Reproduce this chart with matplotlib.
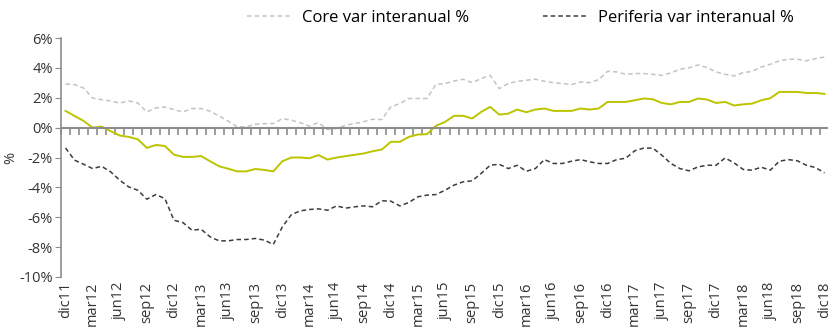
import matplotlib
matplotlib.use("Agg")
import matplotlib.pyplot as plt
from matplotlib.ticker import FixedLocator, FuncFormatter

plt.rcParams['font.family'] = ['Liberation Sans Narrow', 'Open Sans', 'DejaVu Sans']

# monthly series, dic11 .. dic18
core = [2.92, 2.88, 2.65, 1.98, 1.87, 1.78, 1.65, 1.78, 1.65, 1.05, 1.32, 1.38,
        1.20, 1.05, 1.28, 1.28, 1.10, 0.78, 0.43, 0.05, 0.05, 0.23, 0.27, 0.27,
        0.60, 0.50, 0.32, 0.10, 0.34, -0.13, -0.06, 0.16, 0.27, 0.40, 0.56, 0.54,
        1.39, 1.61, 1.95, 1.95, 1.95, 2.90, 2.95, 3.12, 3.24, 3.01, 3.28, 3.50,
        2.61, 2.95, 3.10, 3.17, 3.24, 3.10, 3.01, 2.95, 2.88, 3.06, 3.01, 3.21,
        3.77, 3.73, 3.57, 3.62, 3.62, 3.57, 3.50, 3.66, 3.91, 4.00, 4.20, 4.02,
        3.73, 3.57, 3.46, 3.68, 3.77, 4.06, 4.24, 4.47, 4.58, 4.58, 4.47, 4.62,
        4.73]

periferia = [-1.36, -2.18, -2.45, -2.74, -2.59, -2.96, -3.52, -3.97, -4.19, -4.79,
             -4.48, -4.75, -6.20, -6.36, -6.87, -6.80, -7.31, -7.58, -7.58, -7.49,
             -7.49, -7.42, -7.53, -7.82, -6.64, -5.82, -5.57, -5.48, -5.44, -5.53,
             -5.24, -5.39, -5.30, -5.24, -5.30, -4.90, -4.92, -5.24, -5.01, -4.63,
             -4.52, -4.48, -4.19, -3.85, -3.63, -3.56, -3.07, -2.52, -2.45, -2.74,
             -2.52, -2.92, -2.74, -2.14, -2.40, -2.40, -2.25, -2.14, -2.29, -2.40,
             -2.40, -2.14, -2.05, -1.55, -1.37, -1.37, -1.85, -2.40, -2.74, -2.89,
             -2.63, -2.52, -2.52, -2.03, -2.36, -2.80, -2.85, -2.65, -2.85, -2.25,
             -2.14, -2.22, -2.52, -2.67, -3.03]

total = [1.12, 0.78, 0.45, 0.00, 0.07, -0.24, -0.53, -0.62, -0.78, -1.36, -1.16, -1.23,
         -1.81, -1.96, -1.96, -1.90, -2.25, -2.59, -2.75, -2.93, -2.93, -2.77, -2.83, -2.93,
         -2.25, -2.00, -2.00, -2.05, -1.84, -2.14, -2.00, -1.91, -1.82, -1.73, -1.58, -1.47,
         -0.95, -0.95, -0.62, -0.46, -0.44, 0.12, 0.38, 0.79, 0.79, 0.61, 1.05, 1.39,
         0.87, 0.94, 1.21, 1.03, 1.21, 1.28, 1.12, 1.12, 1.12, 1.28, 1.21, 1.28,
         1.72, 1.72, 1.72, 1.83, 1.95, 1.90, 1.65, 1.56, 1.72, 1.72, 1.95, 1.88,
         1.65, 1.72, 1.48, 1.56, 1.61, 1.83, 1.97, 2.39, 2.39, 2.39, 2.32, 2.32,
         2.26]

quarter_labels = ['dic11', 'mar12', 'jun12', 'sep12', 'dic12', 'mar13', 'jun13', 'sep13',
                  'dic13', 'mar14', 'jun14', 'sep14', 'dic14', 'mar15', 'jun15', 'sep15',
                  'dic15', 'mar16', 'jun16', 'sep16', 'dic16', 'mar17', 'jun17', 'sep17',
                  'dic17', 'mar18', 'jun18', 'sep18', 'dic18']

x = list(range(len(core)))

fig = plt.figure(figsize=(8.29, 3.31), dpi=100)
ax = fig.add_axes([61 / 829, 1 - 277 / 331, 1 - 61 / 829, (277 - 38) / 331])

ax.plot(x, core, color='#c4c4c4', lw=1.1, ls=(0, (3, 2)), label='Core var interanual %')
ax.plot(x, periferia, color='#3c3c3c', lw=1.1, ls=(0, (3, 2)), label='Periferia var interanual %')
ax.plot(x, total, color='#bcc400', lw=1.4)

ax.set_xlim(-0.5, len(core) - 0.5)
ax.set_ylim(-10, 6)

# y axis
ax.set_yticks(range(-10, 7, 2))
ax.yaxis.set_major_formatter(FuncFormatter(lambda v, p: f'{v:.0f}%'))
ax.tick_params(axis='y', length=4, color='#8c8c8c', labelsize=10.5, labelcolor='#333333', pad=2)
ax.spines['left'].set_color('#8c8c8c')
ax.spines['left'].set_linewidth(1.2)
for s in ('top', 'right'):
    ax.spines[s].set_visible(False)
ax.set_ylabel('%', fontsize=10.5, color='#333333')
ax.yaxis.set_label_coords(-0.056, 0.5)

# x axis sits on the zero line: monthly tick marks, quarter labels pushed below the plot
ax.spines['bottom'].set_position(('data', 0))
ax.spines['bottom'].set_color('#8c8c8c')
ax.spines['bottom'].set_linewidth(1.5)
ax.set_xticks(range(0, len(core), 3))
ax.set_xticklabels(quarter_labels, rotation=90, fontsize=10.5, color='#333333')
ax.tick_params(axis='x', which='major', length=0, pad=111)
ax.xaxis.set_minor_locator(FixedLocator([i - 0.5 for i in range(len(core) + 1)]))
ax.tick_params(axis='x', which='minor', direction='out', length=5, width=1.2, color='#8c8c8c')

fig.legend(loc='center', bbox_to_anchor=(0.628, 0.946), ncol=2, frameon=False,
           fontsize=12, handlelength=2.7, columnspacing=4.4, handletextpad=0.6)

fig.savefig('out.png', dpi=100)
